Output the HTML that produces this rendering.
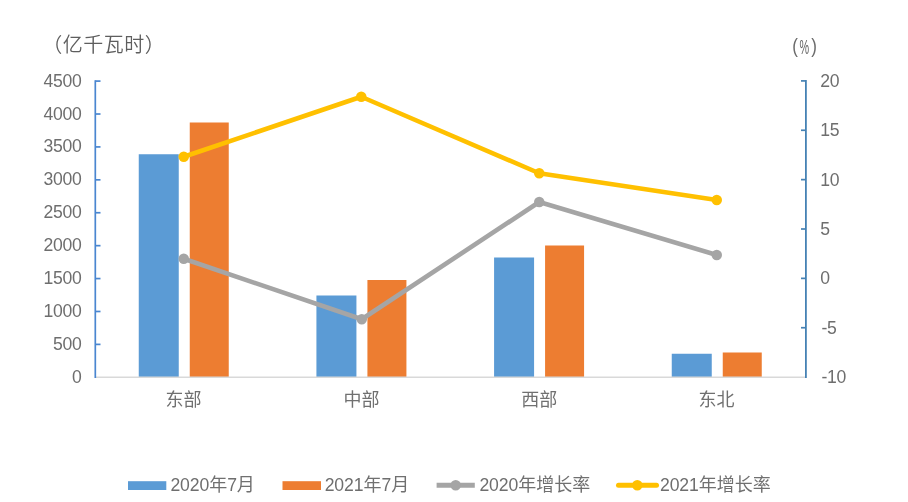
<!DOCTYPE html>
<html lang="zh"><head><meta charset="utf-8"><title>chart</title>
<style>html,body{margin:0;padding:0;background:#fff;}svg{display:block;}text{font-family:"Liberation Sans","Noto Sans CJK SC",sans-serif;fill:#6e6e6e;}.n{font-size:17.6px;letter-spacing:-0.33px;}.ln{font-size:17.6px;letter-spacing:-0.1px;}.c{font-size:18px;font-weight:400;fill:#707070;}.t{font-size:20px;font-weight:350;fill:#5e5e5e;}</style></head><body>
<svg width="908" height="502" viewBox="0 0 908 502">
<rect x="0" y="0" width="908" height="502" fill="#ffffff"/>
<rect x="138.75" y="154.25" width="40" height="223.05" fill="#5b9bd5"/>
<rect x="189.75" y="122.50" width="39" height="254.80" fill="#ed7d31"/>
<rect x="316.42" y="295.50" width="40" height="81.80" fill="#5b9bd5"/>
<rect x="367.42" y="280.00" width="39" height="97.30" fill="#ed7d31"/>
<rect x="494.08" y="257.50" width="40" height="119.80" fill="#5b9bd5"/>
<rect x="545.08" y="245.50" width="39" height="131.80" fill="#ed7d31"/>
<rect x="671.75" y="353.75" width="40" height="23.55" fill="#5b9bd5"/>
<rect x="722.75" y="352.50" width="39" height="24.80" fill="#ed7d31"/>
<line x1="95.3" y1="377.3" x2="805.9" y2="377.3" stroke="#d9d9d9" stroke-width="1.5"/>
<line x1="95.3" y1="80.2" x2="95.3" y2="378.0" stroke="#4a86d0" stroke-width="1.7"/>
<line x1="95.3" y1="81.10" x2="100.5" y2="81.10" stroke="#4a86d0" stroke-width="1.7"/>
<text class="n" x="81.4" y="86.60" text-anchor="end">4500</text>
<line x1="95.3" y1="114.01" x2="100.5" y2="114.01" stroke="#4a86d0" stroke-width="1.7"/>
<text class="n" x="81.4" y="119.51" text-anchor="end">4000</text>
<line x1="95.3" y1="146.92" x2="100.5" y2="146.92" stroke="#4a86d0" stroke-width="1.7"/>
<text class="n" x="81.4" y="152.42" text-anchor="end">3500</text>
<line x1="95.3" y1="179.83" x2="100.5" y2="179.83" stroke="#4a86d0" stroke-width="1.7"/>
<text class="n" x="81.4" y="185.33" text-anchor="end">3000</text>
<line x1="95.3" y1="212.74" x2="100.5" y2="212.74" stroke="#4a86d0" stroke-width="1.7"/>
<text class="n" x="81.4" y="218.24" text-anchor="end">2500</text>
<line x1="95.3" y1="245.66" x2="100.5" y2="245.66" stroke="#4a86d0" stroke-width="1.7"/>
<text class="n" x="81.4" y="251.16" text-anchor="end">2000</text>
<line x1="95.3" y1="278.57" x2="100.5" y2="278.57" stroke="#4a86d0" stroke-width="1.7"/>
<text class="n" x="81.4" y="284.07" text-anchor="end">1500</text>
<line x1="95.3" y1="311.48" x2="100.5" y2="311.48" stroke="#4a86d0" stroke-width="1.7"/>
<text class="n" x="81.4" y="316.98" text-anchor="end">1000</text>
<line x1="95.3" y1="344.39" x2="100.5" y2="344.39" stroke="#4a86d0" stroke-width="1.7"/>
<text class="n" x="81.4" y="349.89" text-anchor="end">500</text>
<text class="n" x="81.4" y="382.80" text-anchor="end">0</text>
<line x1="805.9" y1="80.0" x2="805.9" y2="378.0" stroke="#4682b4" stroke-width="1.8"/>
<line x1="801.0" y1="80.90" x2="805.9" y2="80.90" stroke="#4682b4" stroke-width="1.7"/>
<text class="n" x="820.2" y="86.80">20</text>
<line x1="801.0" y1="130.27" x2="805.9" y2="130.27" stroke="#4682b4" stroke-width="1.7"/>
<text class="n" x="820.2" y="136.17">15</text>
<line x1="801.0" y1="179.63" x2="805.9" y2="179.63" stroke="#4682b4" stroke-width="1.7"/>
<text class="n" x="820.2" y="185.53">10</text>
<line x1="801.0" y1="229.00" x2="805.9" y2="229.00" stroke="#4682b4" stroke-width="1.7"/>
<text class="n" x="820.2" y="234.90">5</text>
<line x1="801.0" y1="278.37" x2="805.9" y2="278.37" stroke="#4682b4" stroke-width="1.7"/>
<text class="n" x="820.2" y="284.27">0</text>
<line x1="801.0" y1="327.73" x2="805.9" y2="327.73" stroke="#4682b4" stroke-width="1.7"/>
<text class="n" x="821.6" y="333.63">-5</text>
<text class="n" x="821.6" y="383.00">-10</text>
<polyline points="183.75,258.75 361.75,319.25 539.25,202.00 716.75,255.00" fill="none" stroke="#a5a5a5" stroke-width="4.6" stroke-linejoin="round" stroke-linecap="round"/>
<circle cx="183.75" cy="258.75" r="5.25" fill="#a5a5a5"/>
<circle cx="361.75" cy="319.25" r="5.25" fill="#a5a5a5"/>
<circle cx="539.25" cy="202.00" r="5.25" fill="#a5a5a5"/>
<circle cx="716.75" cy="255.00" r="5.25" fill="#a5a5a5"/>
<polyline points="183.75,156.75 361.25,96.75 539.25,173.25 716.75,200.00" fill="none" stroke="#ffc000" stroke-width="4.6" stroke-linejoin="round" stroke-linecap="round"/>
<circle cx="183.75" cy="156.75" r="5.25" fill="#ffc000"/>
<circle cx="361.25" cy="96.75" r="5.25" fill="#ffc000"/>
<circle cx="539.25" cy="173.25" r="5.25" fill="#ffc000"/>
<circle cx="716.75" cy="200.00" r="5.25" fill="#ffc000"/>
<text class="c" x="183.60" y="406" text-anchor="middle">东部</text>
<text class="c" x="361.50" y="406" text-anchor="middle">中部</text>
<text class="c" x="539.20" y="406" text-anchor="middle">西部</text>
<text class="c" x="716.60" y="406" text-anchor="middle">东北</text>
<text class="t" x="42.3" y="52" letter-spacing="0.5">（亿千瓦时）</text>
<text class="t" style="fill:#6c6c6c" transform="translate(792.2,53.2) scale(0.85,1.03)">(</text>
<text class="t" style="fill:#666" transform="translate(799.4,53.8) scale(0.54,1.02)">%</text>
<text class="t" style="fill:#6c6c6c" transform="translate(811.2,53.2) scale(0.85,1.03)">)</text>
<rect x="128" y="481.2" width="38.3" height="8.8" fill="#5b9bd5"/>
<text x="170.4" y="490.7"><tspan class="ln">2020</tspan><tspan class="c">年</tspan><tspan class="ln">7</tspan><tspan class="c">月</tspan></text>
<rect x="282.5" y="481.2" width="38.5" height="8.8" fill="#ed7d31"/>
<text x="324.7" y="490.7"><tspan class="ln">2021</tspan><tspan class="c">年</tspan><tspan class="ln">7</tspan><tspan class="c">月</tspan></text>
<line x1="436.6" y1="485.3" x2="474.8" y2="485.3" stroke="#a5a5a5" stroke-width="5"/>
<circle cx="455.7" cy="485.3" r="5.3" fill="#a5a5a5"/>
<text x="479.4" y="490.7"><tspan class="ln">2020</tspan><tspan class="c">年增长率</tspan></text>
<line x1="618.5" y1="485.3" x2="656.5" y2="485.3" stroke="#ffc000" stroke-width="5" stroke-linecap="round"/>
<circle cx="637.3" cy="485.3" r="5.3" fill="#ffc000"/>
<text x="660.0" y="490.7"><tspan class="ln">2021</tspan><tspan class="c">年增长率</tspan></text>
</svg></body></html>
